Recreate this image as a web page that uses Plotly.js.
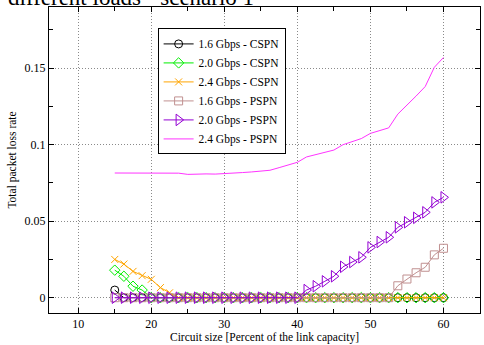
<!DOCTYPE html>
<html>
<head>
<meta charset="utf-8">
<script src="https://cdn.plot.ly/plotly-3.0.1.min.js"></script>
<style>html,body{margin:0;padding:0;background:#fff;}#chart{width:484px;height:345px;}</style>
</head>
<body>
<div id="chart"></div>
<script>
const circuitSize = [15,16.25,17.5,18.75,20,21.25,22.5,23.75,25,26.25,27.5,28.75,30,31.25,32.5,33.75,35,36.25,37.5,38.75,40,41.25,42.5,43.75,45,46.25,47.5,48.75,50,51.25,52.5,53.75,55,56.25,57.5,58.75,60];

const cspn16 = [0.005,0,0,0,0,0,0,0,0,0,0,0,0,0,0,0,0,0,0,0,0,0,0,0,0,0,0,0,0,0,0,0,0,0,0,0,0];
const cspn20 = [0.018,0.014,0.0075,0.005,0,0,0,0,0,0,0,0,0,0,0,0,0,0,0,0,0,0,0,0,0,0,0,0,0,0,0,0,0,0,0,0,0];
const cspn24 = [0.025,0.022,0.0172,0.0144,0.012,0.0066,0.0032,0,0,0,0,0,0,0,0,0,0,0,0,0,0,0,0,0,0,0,0,0,0,0,0,0,0,0,0,0,0];
const pspn16 = [0,0,0,0,0,0,0,0,0,0,0,0,0,0,0,0,0,0,0,0,0,0,0,0,0,0,0,0,0,0,0,0.0078,0.0122,0.0163,0.0199,0.028,0.0323];
const pspn20 = [0,0,0,0,0,0,0,0,0,0,0,0,0,0,0,0,0,0,0,0,0,0.005,0.0075,0.0107,0.014,0.0202,0.0233,0.0264,0.0329,0.0364,0.0395,0.046,0.0493,0.0522,0.0558,0.0623,0.0656];
const pspn24 = [0.0815,0.0815,0.0815,0.0815,0.0815,0.0815,0.0815,0.0814,0.0806,0.0809,0.0809,0.0808,0.081,0.0814,0.0818,0.0822,0.0826,0.0833,0.085,0.0866,0.0885,0.092,0.0935,0.095,0.0965,0.1,0.102,0.104,0.1074,0.109,0.111,0.12,0.1257,0.1318,0.138,0.1506,0.157];

const seriesNames = ['1.6 Gbps - CSPN','2.0 Gbps - CSPN','2.4 Gbps - CSPN','1.6 Gbps - PSPN','2.0 Gbps - PSPN','2.4 Gbps - PSPN'];
const chartTitle = 'different loads - scenario 1';
const xTitle = 'Circuit size [Percent of the link capacity]';
const yTitle = 'Total packet loss rate';

const serif = 'Liberation Serif, Times New Roman, serif';

function lp(y, name, color, symbol, size) {
  return {
    x: circuitSize, y: y, name: name, type: 'scatter', mode: 'lines+markers',
    line: {color: color, width: 1},
    marker: {symbol: symbol, size: size, color: color, line: {color: color, width: 1}},
    cliponaxis: false
  };
}

const traces = [
  lp(cspn16, seriesNames[0], '#000000', 'circle-open', 8),
  lp(cspn20, seriesNames[1], '#00ee00', 'diamond-open', 8),
  lp(cspn24, seriesNames[2], '#ffa500', 'x-thin-open', 7),
  lp(pspn16, seriesNames[3], '#c09090', 'square-open', 8),
  lp(pspn20, seriesNames[4], '#9400d3', 'triangle-right-open', 10),
  {x: circuitSize, y: pspn24, name: seriesNames[5], type: 'scatter', mode: 'lines',
   line: {color: '#ff33ff', width: 1}}
];

const axisCommon = {
  showline: true, linecolor: '#000', linewidth: 1, mirror: 'allticks',
  ticks: 'inside', ticklen: 5, tickcolor: '#000', tickwidth: 1,
  showgrid: true, gridcolor: '#8a8a8a', gridwidth: 1, griddash: '1px,2px',
  zeroline: false,
  tickfont: {family: serif, size: 12, color: '#000'}
};

const layout = {
  width: 484, height: 345,
  margin: {l: 49, r: 4, t: 7, b: 32},
  paper_bgcolor: '#fff', plot_bgcolor: '#fff',
  showlegend: true,
  font: {family: serif, color: '#000'},
  xaxis: Object.assign({}, axisCommon, {
    range: [6, 65], tick0: 0, dtick: 10,
    minor: {dtick: 5, ticks: 'inside', ticklen: 4, tickcolor: '#000', showgrid: false},
    title: {text: xTitle, font: {family: serif, size: 11.5}, standoff: 0}
  }),
  yaxis: Object.assign({}, axisCommon, {
    range: [-0.01, 0.19], tick0: 0, dtick: 0.05,
    minor: {dtick: 0.025, ticks: 'inside', ticklen: 4, tickcolor: '#000', showgrid: false},
    title: {text: yTitle, font: {family: serif, size: 11.5}, standoff: 5}
  }),
  legend: {
    x: 0.252, y: 0.93, xanchor: 'left', yanchor: 'top',
    bgcolor: '#fff', bordercolor: '#000', borderwidth: 1,
    font: {family: serif, size: 11.5, color: '#000'},
    traceorder: 'normal'
  },
  annotations: [{
    text: chartTitle, xref: 'paper', yref: 'paper', x: -0.1, y: 1.03,
    xanchor: 'left', yanchor: 'middle', showarrow: false,
    font: {family: serif, size: 23, color: '#000'}
  }]
};

Plotly.newPlot('chart', traces, layout, {displayModeBar: false, staticPlot: true});
</script>
</body>
</html>
